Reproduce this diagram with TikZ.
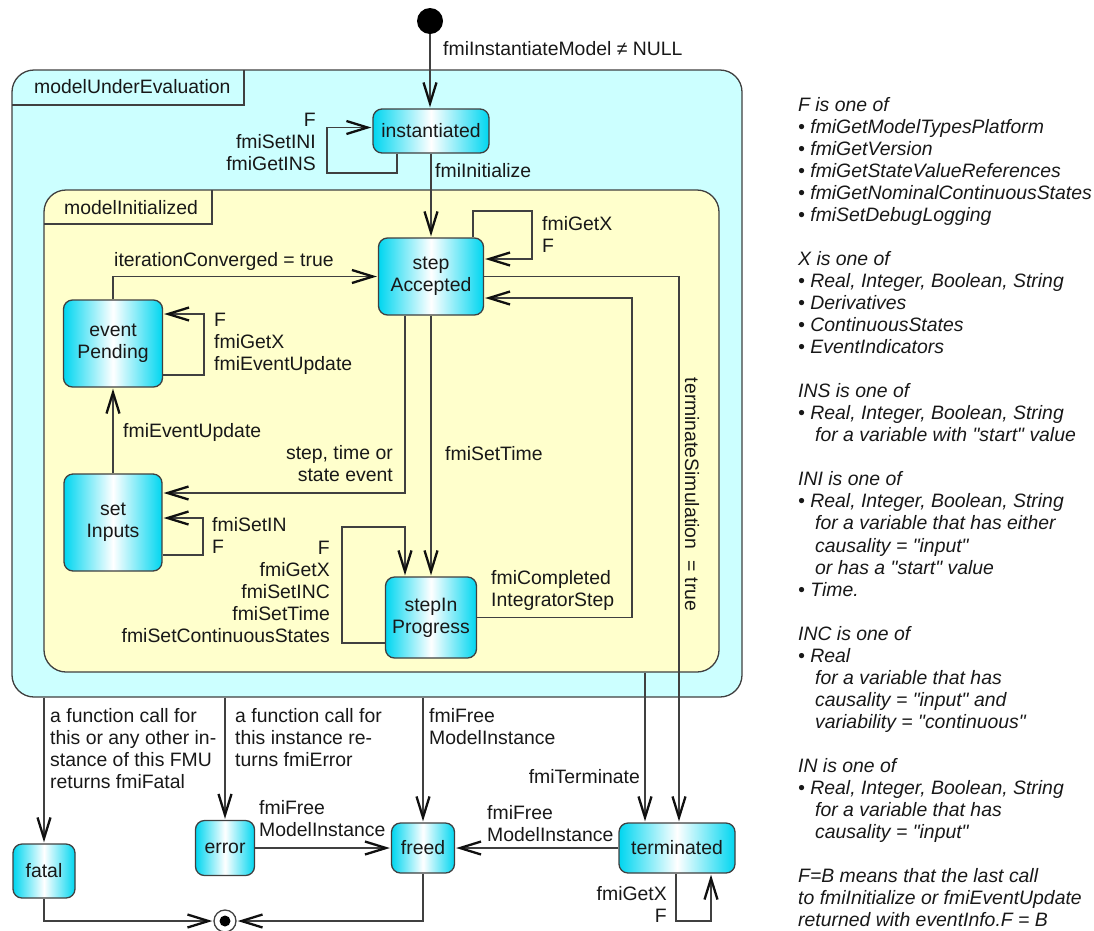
\documentclass[tikz,border=0pt]{standalone}
\usepackage{fontspec}
\setmainfont{Liberation Sans}[Ligatures=TeXOff]
\usetikzlibrary{arrows.meta}

\definecolor{edgecyan}{RGB}{0,214,240}
\definecolor{outerfill}{RGB}{204,255,255}
\definecolor{innerfill}{RGB}{255,255,204}
\definecolor{ink}{RGB}{64,64,64}
\definecolor{tipink}{RGB}{16,16,16}
\definecolor{txt}{RGB}{24,24,24}

% straight double quotes, as typed
\newcommand{\qq}[1]{\char34\relax #1\char34\relax}

\begin{document}
\begin{tikzpicture}[x=1pt,y=-1pt,
  every node/.style={font=\fontsize{19.4}{22}\selectfont, text=txt, inner sep=0pt},
  state/.style={draw=ink, line width=1.3pt, rounded corners=9pt,
                left color=edgecyan, right color=edgecyan, middle color=white, align=center},
  region/.style={draw=ink, line width=1.3pt, rounded corners=22pt},
  tr/.style={draw=ink, line width=1.1pt, shorten >=1pt,
             -{Straight Barb[length=21pt,width=13pt,line width=2.3pt,color=tipink]}},
  lab/.style={align=left},
  labr/.style={align=right},
]
\useasboundingbox (0,0) rectangle (1094,930);

% composite states
\node[region, fill=outerfill, minimum width=730pt, minimum height=627pt] (mue) at (377,383.5) {};
\draw[draw=ink, line width=1.3pt] (12,105) -| (244,70);
\node[anchor=west] (mueName) at (34,87) {modelUnderEvaluation};

\node[region, fill=innerfill, minimum width=675pt, minimum height=482pt] (mi) at (381.5,431) {};
\draw[draw=ink, line width=1.3pt] (44,224) -| (212,190);
\node[anchor=west] (miName) at (64,208) {modelInitialized};

% pseudo states
\node[circle, fill=black, minimum size=26pt] (init) at (430,21) {};
\node[circle, draw=ink, fill=white, line width=1.3pt, minimum size=22pt] (final) at (225,921) {};
\fill[black] (final.center) circle (5.5pt);

% simple states
\node[state, minimum width=116pt, minimum height=44pt] (inst) at (431,131) {instantiated};
\node[state, minimum width=105pt, minimum height=77pt] (sa) at (431,276.5) {step\\Accepted};
\node[state, minimum width=99pt, minimum height=87pt] (ep) at (113,343.5) {event\\Pending};
\node[state, minimum width=98pt, minimum height=97pt] (si) at (113,522.5) {set\\Inputs};
\node[state, minimum width=91pt, minimum height=81pt] (sp) at (431,617.5) {stepIn\\Progress};
\node[state, minimum width=116pt, minimum height=50pt] (term) at (677,848) {terminated};
\node[state, minimum width=63pt, minimum height=50pt] (freed) at (423,848) {freed};
\node[state, minimum width=59pt, minimum height=55pt] (error) at (225,848) {error};
\node[state, minimum width=62pt, minimum height=54pt] (fatal) at (44,871) {fatal};

% transitions
\draw[tr] (init) -- (init |- inst.north);
\node[anchor=west] at (443,49) {fmiInstantiateModel ≠ NULL};

\draw[tr] ([xshift=-34pt]inst.south) |- (327,173) |- ([yshift=3.5pt]inst.west);
\node[labr, anchor=east] at (316,142) {F\\fmiSetINI\\fmiGetINS};

\draw[tr] (inst) -- (inst |- sa.north);
\node[anchor=west] at (435,171) {fmiInitialize};

\draw[tr] ([xshift=42pt]sa.north) |- (532,211) |- ([yshift=17.5pt]sa.east);
\node[lab, anchor=west] at (542,234) {fmiGetX\\F};

\draw[tr] (ep.north) |- (sa.west);
\node[anchor=west] at (114,261) {iterationConverged = true};

\draw[tr] ([yshift=-31.5pt]ep.east) -| (204,314) -- ([yshift=29.5pt]ep.east);
\node[lab, anchor=west] at (214,343.5) {F\\fmiGetX\\fmiEventUpdate};

\draw[tr] (si) -- (si |- ep.south);
\node[anchor=west] at (123,432) {fmiEventUpdate};

\draw[tr] ([xshift=-26pt]sa.south) |- ([yshift=29.5pt]si.east);
\node[labr, anchor=east] at (393,463.5) {step, time or\\state event};

\draw[tr] ([yshift=-32.5pt]si.east) -| (203,518) -- ([yshift=4.5pt]si.east);
\node[lab, anchor=west] at (212,535.5) {fmiSetIN\\F};

\draw[tr] (sa) -- (sa |- sp.north);
\node[anchor=west] at (445,454) {fmiSetTime};

\draw[tr] ([yshift=-25.5pt]sp.west) -| (342,527) -| ([xshift=-26pt]sp.north);
\node[labr, anchor=east] at (330,592) {F\\fmiGetX\\fmiSetINC\\fmiSetTime\\fmiSetContinuousStates};

\draw[tr] (sp.east) -| (632,298) -- ([yshift=-21.5pt]sa.east);
\node[lab, anchor=west] at (491,590.5) {fmiCompleted\\IntegratorStep};

\draw[tr] (sa.east) -| ([xshift=2pt]term.north);
\node[rotate=-90] at (692,494.5) {terminateSimulation\hspace{0.6em}= true};

\coordinate (tA) at ([xshift=-32pt]term.north);
\draw[tr] (tA |- mi.south) -- (tA);
\node[anchor=east] at (640,777) {fmiTerminate};

\draw[tr] (fatal.north |- mue.south) -- (fatal.north);
\node[lab, anchor=west] at (50,749) {a function call for\\this or any other in-\\stance of this FMU\\returns fmiFatal};

\draw[tr] (error.north |- mue.south) -- (error.north);
\node[lab, anchor=west] at (235,738) {a function call for\\this instance re-\\turns fmiError};

\draw[tr] (freed.north |- mue.south) -- (freed.north);
\node[lab, anchor=west] at (429,727) {fmiFree\\ModelInstance};

\draw[tr] (term) -- (freed);
\node[lab, anchor=west] at (487,824) {fmiFree\\ModelInstance};

\draw[tr] (error) -- (freed);
\node[lab, anchor=west] at (259,819) {fmiFree\\ModelInstance};

\draw[tr] ([xshift=-1pt]term.south) |- (711,921) -- ([xshift=34pt]term.south);
\node[labr, anchor=east] at (667,904) {fmiGetX\\F};

\draw[tr] (fatal.south) |- (final.west);
\draw[tr] (freed.south) |- (final.east);

% legend of the abbreviations
\node[anchor=west, align=left, font=\fontsize{19.4}{22.05}\selectfont\itshape] (notes) at (798,512) {%
F is one of\\
• fmiGetModelTypesPlatform\\
• fmiGetVersion\\
• fmiGetStateValueReferences\\
• fmiGetNominalContinuousStates\\
• fmiSetDebugLogging\\
\mbox{}\\
X is one of\\
• Real, Integer, Boolean, String\\
• Derivatives\\
• ContinuousStates\\
• EventIndicators\\
\mbox{}\\
INS is one of\\
• Real, Integer, Boolean, String\\
\hspace*{17pt}for a variable with \qq{start} value\\
\mbox{}\\
INI is one of\\
• Real, Integer, Boolean, String\\
\hspace*{17pt}for a variable that has either\\
\hspace*{17pt}causality = \qq{input}\\
\hspace*{17pt}or has a \qq{start} value\\
• Time.\\
\mbox{}\\
INC is one of\\
• Real\\
\hspace*{17pt}for a variable that has\\
\hspace*{17pt}causality = \qq{input} and\\
\hspace*{17pt}variability = \qq{continuous}\\
\mbox{}\\
IN is one of\\
• Real, Integer, Boolean, String\\
\hspace*{17pt}for a variable that has\\
\hspace*{17pt}causality = \qq{input}\\
\mbox{}\\
F=B means that the last call\\
to fmiInitialize or fmiEventUpdate\\
returned with eventInfo.F = B};
\end{tikzpicture}
\end{document}
